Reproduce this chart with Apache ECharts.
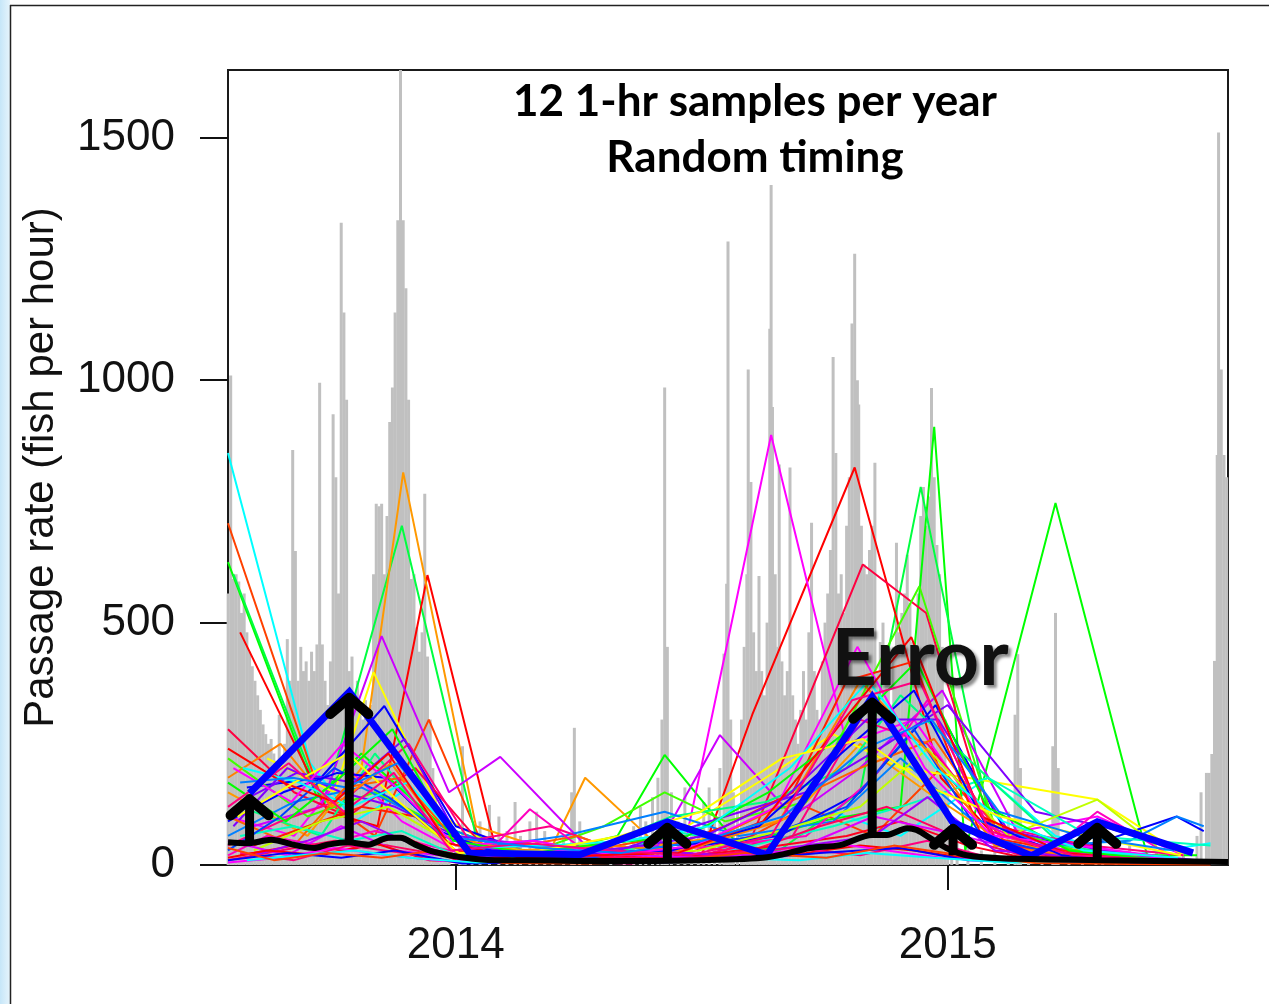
<!DOCTYPE html>
<html><head><meta charset="utf-8">
<script src="https://cdn.jsdelivr.net/npm/echarts@6/dist/echarts.min.js"></script>
<style>html,body{margin:0;padding:0;background:#fff;}#c{width:1269px;height:1004px;}</style>
</head><body><div id="c"></div>
<script>
// x values are days since 2014-01-01
const xTickDays = [0, 365];
const xTickLabels = ['2014', '2015'];
const yTicks = [0, 500, 1000, 1500];
const titleLines = ['12 1-hr samples per year', 'Random timing'];
const yAxisTitle = 'Passage rate (fish per hour)';
const annotation = 'Error';

// observed hourly passage rate (gray spikes): [day, fish per hour]
const grayBars = [
[-169,560],[-167,1010],[-165,590],[-163,600],[-161,585],[-159,520],[-157,560],[-155,480],[-153,440],[-151,410],
[-149,380],[-147,350],[-145,320],[-143,290],[-141,270],[-139,250],[-137,260],[-135,230],[-133,215],[-131,310],
[-129,200],[-127,250],[-125,466],[-123,380],[-121,856],[-119,648],[-117,380],[-115,450],[-113,400],[-111,420],
[-109,380],[-107,440],[-105,400],[-103,455],[-101,995],[-99,455],[-97,380],[-95,330],[-93,420],[-91,930],
[-89,800],[-87,560],[-85,1325],[-83,1140],[-81,960],[-79,400],[-77,430],[-75,350],[-73,380],[-71,330],
[-69,300],[-67,340],[-65,310],[-63,330],[-61,600],[-59,745],[-57,740],[-55,745],[-53,600],[-51,720],
[-49,914],[-47,985],[-45,1140],[-43,1330],[-41,1640],[-39,1330],[-37,1190],[-35,960],[-33,590],[-31,600],
[-29,490],[-27,440],[-25,480],[-23,766],[-21,430],[-19,300],[-17,200],[-15,150],[-13,120],[-11,80],
[-9,60],[-7,40],[-5,30],[3,60],[5,245],[7,50],
[12,50],[18,90],[25,124],[32,100],[38,70],[44,130],[48,60],[55,90],[60,110],[66,70],[72,40],[80,60],
[86,150],[88,283],[92,90],[100,40],[115,30],[125,50],[132,80],[137,120],[141,90],[146,140],[150,180],
[153,300],[155,985],[157,450],[160,150],[165,90],[170,160],[175,70],[180,90],[184,130],[188,160],
[192,100],[196,200],[199,436],[201,580],[202,1286],[204,300],[206,150],[209,120],[212,300],[214,450],
[216,600],[217,1022],[219,790],[221,480],[223,400],[225,596],[227,400],[229,350],[231,500],[233,1106],
[234,1403],[235,945],[237,600],[239,450],[240,826],[242,420],[244,350],[246,400],[248,820],[250,350],
[252,300],[254,250],[256,320],[258,400],[260,300],[262,480],[264,706],[266,400],[268,320],[270,300],
[272,420],[274,500],[276,560],[278,650],[280,1048],[282,850],[284,560],[286,600],[288,520],[290,700],
[292,800],[294,1117],[296,1261],[298,1000],[299,950],[301,700],[303,620],[305,600],[307,650],[309,700],
[311,830],[313,400],[315,460],[317,500],[319,430],[321,380],[323,300],[325,450],[327,665],[329,480],
[331,520],[333,560],[335,640],[337,540],[339,460],[341,420],[343,560],[345,720],[347,780],[349,700],
[351,760],[353,984],[355,800],[357,660],[359,600],[361,450],[363,300],[365,200],[368,100],[372,80],
[380,40],[390,30],[400,50],[410,110],[415,310],[417,435],[419,200],[425,60],[435,40],[443,245],
[445,520],[447,200],[455,40],[465,30],[475,50],[480,25],[490,30],[500,40],[510,20],[520,30],[530,25],
[540,30],[550,60],[553,150],[557,190],[559,190],[561,229],[563,421],[565,846],[566,1511],[568,1022],
[570,846],[572,800]
];

// true mean passage (thick black)
const meanLine = [[-169,47],[-154,45],[-137,52],[-119,41],[-105,35],[-95,42],[-80,47],[-65,42],[-50,56],
[-41,56],[-30,42],[-16,27],[4,16],[29,10],[53,10],[107,8],[181,10],[231,16],[263,35],[285,41],[309,62],
[320,62],[335,76],[342,72],[354,52],[364,35],[379,20],[404,14],[478,10],[573,6]];

// one highlighted sampling realisation (thick blue)
const highlightSample = [[-153,148],[-79,357],[10,25],[92,21],[157,89],[231,21],[309,347],[369,87],
[427,19],[476,89],[547,25]];

// error arrows: [day, true mean, sample estimate]
const errorArrows = [[-153,45,148],[-79,47,357],[157,8,89],[309,62,347],[369,20,87],[476,10,89]];

const sampleColors = ['#00FFFF','#FF4000','#00FF00','#00FF40','#FF0000','#FF9900','#FF00FF','#CC00FF',
'#FFFF00','#0000FF','#FF0040','#40FF00','#00FF80','#0080FF','#FF0080','#8000FF','#FF2000','#FF6000',
'#FF00C0','#00FFC0','#0040FF','#C0FF00','#FF0060','#FF0020','#E000FF','#A000FF','#FF0000','#FF00FF',
'#FF0080','#0000FF','#00FFFF','#FF4000','#FF8000','#8000FF','#0000FF','#FF00FF','#00FF00','#00FFFF',
'#FF0000','#FFFF00','#FF0080','#0080FF'];

const sampleRuns = [
[[-169,850],[-108,210],[-75,90],[-40,150],[0,25],[40,15],[95,40],[150,60],[210,30],[280,110],[330,60],[395,180],[445,60],[500,20],[560,45]],
[[-169,705],[-100,140],[-60,60],[-20,300],[20,40],[80,20],[140,50],[200,30],[260,120],[310,60],[360,200],[410,40],[470,20],[540,10]],
[[-169,625],[-103,140],[-70,230],[-26,120],[10,30],[60,20],[120,60],[155,227],[210,40],[270,90],[330,120],[355,904],[378,30],[445,747],[513,20],[550,20]],
[[-165,600],[-98,120],[-40,700],[15,60],[60,15],[120,30],[180,50],[240,30],[300,150],[345,780],[400,40],[460,20],[540,10]],
[[-160,480],[-95,110],[-58,80],[-21,598],[30,30],[90,20],[150,15],[181,10],[220,310],[296,820],[360,180],[410,30],[470,10],[550,5]],
[[-169,150],[-110,60],[-70,200],[-39,810],[15,80],[70,30],[96,180],[150,40],[200,60],[250,100],[300,250],[350,150],[410,40],[470,30],[540,10]],
[[-169,100],[-120,60],[-80,200],[-40,90],[0,30],[60,40],[130,10],[168,15],[234,887],[290,250],[340,300],[400,60],[476,100],[540,20]],
[[-150,80],[-100,120],[-55,472],[-5,150],[33,223],[100,30],[150,40],[196,268],[250,100],[300,200],[361,360],[420,50],[470,20],[530,10]],
[[-140,220],[-90,150],[-61,398],[-10,100],[40,20],[90,40],[160,60],[230,180],[280,270],[330,200],[380,180],[476,135],[540,20]],
[[-155,160],[-100,180],[-53,328],[0,80],[50,30],[120,20],[180,40],[240,60],[300,150],[356,330],[410,60],[470,40],[535,100],[555,70]],
[[-169,280],[-120,150],[-80,100],[-30,200],[20,40],[80,20],[150,10],[220,60],[302,620],[349,520],[400,50],[460,10],[550,5]],
[[-169,220],[-110,100],[-60,150],[-10,80],[50,20],[110,80],[155,150],[200,90],[260,130],[344,575],[400,80],[460,30],[520,10]],
[[-160,120],[-100,60],[-60,230],[-10,60],[40,20],[100,30],[160,100],[230,130],[290,200],[330,350],[395,180],[450,40],[520,10]],
[[-169,60],[-120,130],[-70,160],[-20,90],[30,40],[80,60],[155,110],[210,60],[280,90],[330,220],[380,100],[440,40],[500,50],[535,100],[555,80]],
[[-169,40],[-130,90],[-80,140],[-35,250],[10,50],[70,80],[120,30],[180,20],[250,60],[300,300],[350,250],[400,80],[470,40],[540,20]],
[[-165,80],[-125,200],[-85,150],[-45,120],[0,60],[60,40],[120,30],[200,100],[260,150],[320,250],[365,330],[430,110],[480,80],[540,30]],
[[-150,40],[-110,80],[-70,120],[-30,100],[0,30],[50,10],[100,15],[150,30],[200,80],[250,150],[290,380],[340,420],[390,60],[450,30],[520,10]],
[[-169,100],[-120,40],[-82,160],[-41,180],[10,20],[90,60],[130,20],[180,40],[240,120],[300,200],[355,260],[405,60],[460,20]],
[[-169,20],[-140,60],[-100,40],[-60,70],[-20,40],[20,15],[55,115],[100,20],[150,30],[200,40],[260,60],[310,180],[350,340],[395,80],[440,30],[476,110],[530,20]],
[[-160,60],[-120,80],[-80,50],[-40,70],[0,20],[60,30],[120,20],[160,70],[220,40],[280,80],[330,120],[395,180],[470,60],[560,40]],
[[-169,30],[-130,100],[-90,200],[-50,140],[-10,60],[40,20],[100,15],[160,40],[230,60],[290,120],[340,280],[390,60],[450,20],[520,15]],
[[-150,30],[-100,90],[-50,120],[0,40],[60,30],[120,20],[180,30],[240,70],[300,120],[350,240],[410,60],[476,135],[520,40]],
[[-169,10],[-130,30],[-90,50],[-50,40],[-10,20],[40,10],[100,20],[160,10],[220,30],[270,80],[320,120],[370,60],[420,20],[480,10],[550,5]],
[[-160,20],[-120,40],[-80,30],[-40,60],[0,10],[50,20],[120,10],[180,20],[240,40],[290,60],[330,90],[380,40],[430,10],[500,15],[560,5]],
[[-169,50],[-125,20],[-85,80],[-45,30],[5,15],[70,30],[130,20],[190,15],[250,30],[310,100],[360,70],[420,30],[480,20],[550,10]],
[[-150,20],[-110,50],[-70,90],[-30,40],[20,10],[80,15],[140,30],[200,20],[260,40],[310,60],[350,140],[400,30],[470,15],[540,5]],
[[-169,15],[-140,30],[-100,20],[-60,45],[-20,10],[30,5],[90,10],[150,5],[210,15],[260,25],[300,40],[340,30],[390,10],[450,5],[520,3],[560,2]],
[[-169,5],[-130,15],[-90,35],[-50,20],[-10,8],[40,12],[110,5],[170,10],[230,20],[280,45],[320,30],[360,15],[420,8],[490,5],[555,3]],
[[-160,25],[-120,10],[-80,40],[-40,25],[0,5],[60,8],[130,3],[190,20],[250,35],[300,20],[350,50],[400,12],[460,6],[530,2]],
[[-169,10],[-125,25],[-85,15],[-45,30],[5,3],[70,6],[140,4],[210,10],[270,25],[330,35],[380,10],[440,5],[510,3],[560,2]],
[[-155,10],[-115,20],[-75,30],[-35,15],[15,5],[75,10],[135,8],[195,15],[255,10],[305,25],[355,15],[410,5],[470,8],[540,4]],
[[-169,35],[-135,10],[-95,25],[-55,15],[-15,30],[35,4],[95,3],[155,6],[215,25],[275,15],[325,40],[375,20],[430,4],[500,2],[560,1]],
[[-169,180],[-130,250],[-92,120],[-48,210],[-8,60],[45,30],[110,40],[170,30],[240,90],[300,380],[352,230],[400,40],[470,15],[540,8]],
[[-160,130],[-118,190],[-76,170],[-38,260],[5,40],[65,20],[125,35],[185,60],[245,140],[305,300],[358,300],[410,70],[480,30],[550,10]],
[[-169,90],[-128,150],[-88,190],[-52,180],[-12,70],[35,20],[95,25],[160,30],[225,80],[290,240],[340,360],[392,90],[450,20],[520,10]],
[[-165,200],[-122,130],[-84,250],[-44,160],[0,40],[58,50],[118,20],[178,40],[238,120],[298,450],[348,200],[398,60],[462,40],[530,15]],
[[-169,170],[-126,90],[-86,180],[-47,280],[-2,50],[52,25],[112,45],[172,60],[232,150],[292,280],[342,420],[394,120],[455,30],[525,10]],
[[-158,200],[-116,170],[-78,120],[-36,170],[8,35],[68,40],[128,50],[188,80],[248,200],[306,380],[356,200],[406,90],[466,30],[536,15]],
[[-169,240],[-128,170],[-90,130],[-50,230],[-6,45],[48,15],[105,20],[165,25],[228,90],[288,300],[338,470],[390,100],[452,25],[522,8]],
[[-162,100],[-120,170],[-80,230],[-42,130],[2,25],[62,30],[122,60],[182,110],[242,220],[302,260],[352,160],[404,100],[468,60],[538,20]],
[[-169,120],[-124,210],[-83,110],[-46,190],[-4,30],[54,45],[114,30],[174,20],[234,60],[294,340],[344,380],[396,70],[458,20],[528,10]],
[[-160,170],[-121,180],[-81,160],[-43,210],[3,55],[63,35],[123,25],[183,50],[243,100],[303,240],[353,300],[403,110],[463,60],[533,30]]
];

const chart = echarts.init(document.getElementById('c'), null, {renderer: 'canvas'});
const series = [];
series.push({
  type: 'bar', data: grayBars, barWidth: 3, itemStyle: {color: '#C0C0C0'},
  silent: true, z: 1
});
sampleRuns.forEach((run, i) => {
  series.push({
    type: 'line', data: run, showSymbol: false, symbol: 'none', silent: true, z: 2,
    lineStyle: {color: sampleColors[i % sampleColors.length], width: 2}
  });
});
series.push({type: 'line', data: highlightSample, symbol: 'none', silent: true, z: 3,
  lineStyle: {color: '#0000FF', width: 7, join: 'miter'}});
series.push({type: 'line', data: meanLine, symbol: 'none', silent: true, z: 4, smooth: 0.3,
  lineStyle: {color: '#000', width: 6}});
series.push({
  type: 'custom', data: errorArrows, silent: true, z: 5,
  encode: {x: 0, y: [1, 2]},
  renderItem: function (params, api) {
    const d = api.value(0), a = api.value(1), b = api.value(2);
    const p0 = api.coord([d, a]), p1 = api.coord([d, b]);
    return {type: 'group', children: [
      {type: 'line', shape: {x1: p0[0], y1: p0[1], x2: p1[0], y2: p1[1] + 6},
       style: {stroke: '#000', lineWidth: 9}},
      {type: 'polyline', shape: {points: [[p1[0] - 19, p1[1] + 22], [p1[0], p1[1] + 6], [p1[0] + 19, p1[1] + 22]]},
       style: {stroke: '#000', lineWidth: 10, lineCap: 'round', lineJoin: 'round', fill: null}}
    ]};
  }
});

const fontSans = 'Liberation Sans, Arial, sans-serif';
chart.setOption({
  animation: false,
  backgroundColor: '#fff',
  grid: {left: 228, top: 70, width: 1000, height: 795, show: true, borderColor: '#1a1a1a', borderWidth: 2,
         containLabel: false, outerBoundsMode: 'none'},
  xAxis: {
    type: 'value', min: -169, max: 573,
    axisLine: {show: false, onZero: false},
    splitLine: {show: false},
    axisTick: {show: true, customValues: xTickDays, length: 25, lineStyle: {color: '#111', width: 2}},
    axisLabel: {show: true, customValues: xTickDays, margin: 59, fontSize: 44, color: '#111',
      fontFamily: fontSans,
      formatter: v => xTickLabels[xTickDays.indexOf(v)]}
  },
  yAxis: {
    type: 'value', min: 0, max: 1640,
    name: yAxisTitle, nameLocation: 'middle', nameGap: 166,
    nameTextStyle: {fontSize: 42, color: '#111', fontFamily: fontSans},
    axisLine: {show: false, onZero: false},
    splitLine: {show: false},
    axisTick: {show: true, inside: false, customValues: yTicks, length: 28, lineStyle: {color: '#111', width: 2}},
    axisLabel: {show: true, customValues: yTicks, margin: 53, fontSize: 44, color: '#111',
      fontFamily: fontSans, formatter: v => String(v)}
  },
  graphic: [
    {type: 'rect', left: 0, top: 0, shape: {width: 10, height: 1004}, silent: true,
     style: {fill: new echarts.graphic.LinearGradient(0, 0, 1, 0, [{offset: 0, color: '#c6e6f8'}, {offset: 1, color: '#e6f4fc'}])}},
    {type: 'line', shape: {x1: 10.5, y1: 5, x2: 10.5, y2: 1004}, style: {stroke: '#222', lineWidth: 1.5}, silent: true},
    {type: 'line', shape: {x1: 10, y1: 5.5, x2: 1269, y2: 5.5}, style: {stroke: '#222', lineWidth: 1.5}, silent: true},
    {type: 'text', x: 755, y: 102, z: 10, silent: true,
     style: {text: titleLines[0], font: 'bold 44px Lato, "Open Sans", sans-serif', fill: '#000',
       textAlign: 'center', textVerticalAlign: 'middle', align: 'center', verticalAlign: 'middle'}},
    {type: 'text', x: 755, y: 158, z: 10, silent: true,
     style: {text: titleLines[1], font: 'bold 44px Lato, "Open Sans", sans-serif', fill: '#000',
       textAlign: 'center', textVerticalAlign: 'middle', align: 'center', verticalAlign: 'middle'}},
    {type: 'text', x: 920, y: 660, z: 20, silent: true,
     style: {text: annotation, font: 'bold 79px Lato, "Open Sans", sans-serif', fill: '#111',
       textAlign: 'center', textVerticalAlign: 'middle', align: 'center', verticalAlign: 'middle',
       textShadowColor: 'rgba(0,0,0,0.45)', textShadowBlur: 3, textShadowOffsetX: 3, textShadowOffsetY: 3,
       shadowColor: 'rgba(0,0,0,0.45)', shadowBlur: 3, shadowOffsetX: 3, shadowOffsetY: 3}}
  ],
  series: series
});
</script></body></html>
